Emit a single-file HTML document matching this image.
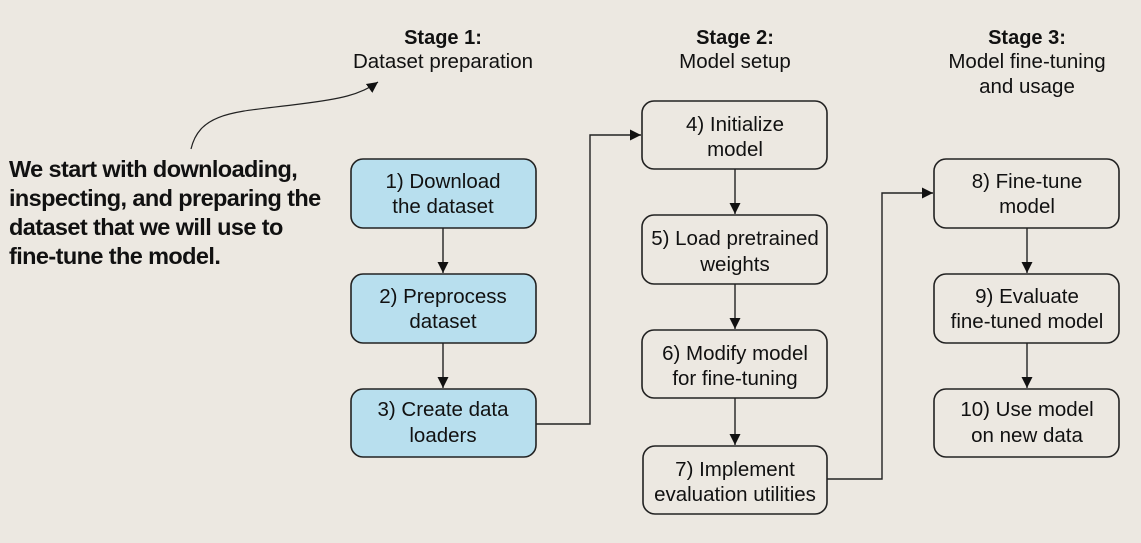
<!DOCTYPE html>
<html><head><style>
body{margin:0;background:#ece8e1;}
svg{display:block}
text{font-family:"Liberation Sans",sans-serif;fill:#111}
.b{font-size:20.5px;text-anchor:middle}
.h{font-size:20.5px;text-anchor:middle}
.hb{font-size:20px;font-weight:bold;text-anchor:middle}
.l{font-size:23.5px;font-weight:bold;letter-spacing:-0.6px}
.bx{stroke:#222;stroke-width:1.6}
</style></head><body>
<svg width="1141" height="543" viewBox="0 0 1141 543">
<defs><marker id="a" markerWidth="12" markerHeight="12" refX="11" refY="5.5" orient="auto" markerUnits="userSpaceOnUse"><path d="M0,0 L11,5.5 L0,11 z" fill="#111"/></marker></defs>
<rect width="1141" height="543" fill="#ece8e1"/>
<text class="hb" x="443" y="44">Stage 1:</text>
<text class="h" x="443" y="68">Dataset preparation</text>
<text class="hb" x="735" y="44">Stage 2:</text>
<text class="h" x="735" y="68">Model setup</text>
<text class="hb" x="1027" y="44">Stage 3:</text>
<text class="h" x="1027" y="68">Model fine-tuning</text>
<text class="h" x="1027" y="93">and usage</text>
<path d="M191,149 C200,110 240,112 300,104 C340,99 360,95 378,82" fill="none" stroke="#222" stroke-width="1.2" marker-end="url(#a)"/>
<text class="l" x="9" y="177">We start with downloading,</text>
<text class="l" x="9" y="206">inspecting, and preparing the</text>
<text class="l" x="9" y="235">dataset that we will use to</text>
<text class="l" x="9" y="264">fine-tune the model.</text>
<g fill="#b8dfee">
<rect class="bx" x="351" y="159" width="185" height="69" rx="12"/>
<rect class="bx" x="351" y="274" width="185" height="69" rx="12"/>
<rect class="bx" x="351" y="389" width="185" height="68" rx="12"/>
</g>
<g fill="none">
<rect class="bx" x="642" y="101" width="185" height="68" rx="12"/>
<rect class="bx" x="642" y="215" width="185" height="69" rx="12"/>
<rect class="bx" x="642" y="330" width="185" height="68" rx="12"/>
<rect class="bx" x="643" y="446" width="184" height="68" rx="12"/>
<rect class="bx" x="934" y="159" width="185" height="69" rx="12"/>
<rect class="bx" x="934" y="274" width="185" height="69" rx="12"/>
<rect class="bx" x="934" y="389" width="185" height="68" rx="12"/>
</g>
<g stroke="#222" stroke-width="1.4" fill="none" marker-end="url(#a)">
<path d="M443,228 V273"/><path d="M443,343 V388"/>
<path d="M735,169 V214"/><path d="M735,284 V329"/><path d="M735,398 V445"/>
<path d="M1027,228 V273"/><path d="M1027,343 V388"/>
<path d="M536,424 H590 V135 H641"/>
<path d="M827,479 H882 V193 H933"/>
</g>
<text class="b" x="443" y="188">1) Download</text><text class="b" x="443" y="213">the dataset</text>
<text class="b" x="443" y="303">2) Preprocess</text><text class="b" x="443" y="328">dataset</text>
<text class="b" x="443" y="416">3) Create data</text><text class="b" x="443" y="442">loaders</text>
<text class="b" x="735" y="131">4) Initialize</text><text class="b" x="735" y="156">model</text>
<text class="b" x="735" y="245">5) Load pretrained</text><text class="b" x="735" y="271">weights</text>
<text class="b" x="735" y="360">6) Modify model</text><text class="b" x="735" y="385">for fine-tuning</text>
<text class="b" x="735" y="476">7) Implement</text><text class="b" x="735" y="501">evaluation utilities</text>
<text class="b" x="1027" y="188">8) Fine-tune</text><text class="b" x="1027" y="213">model</text>
<text class="b" x="1027" y="303">9) Evaluate</text><text class="b" x="1027" y="328">fine-tuned model</text>
<text class="b" x="1027" y="416">10) Use model</text><text class="b" x="1027" y="442">on new data</text>
</svg>
</body></html>
